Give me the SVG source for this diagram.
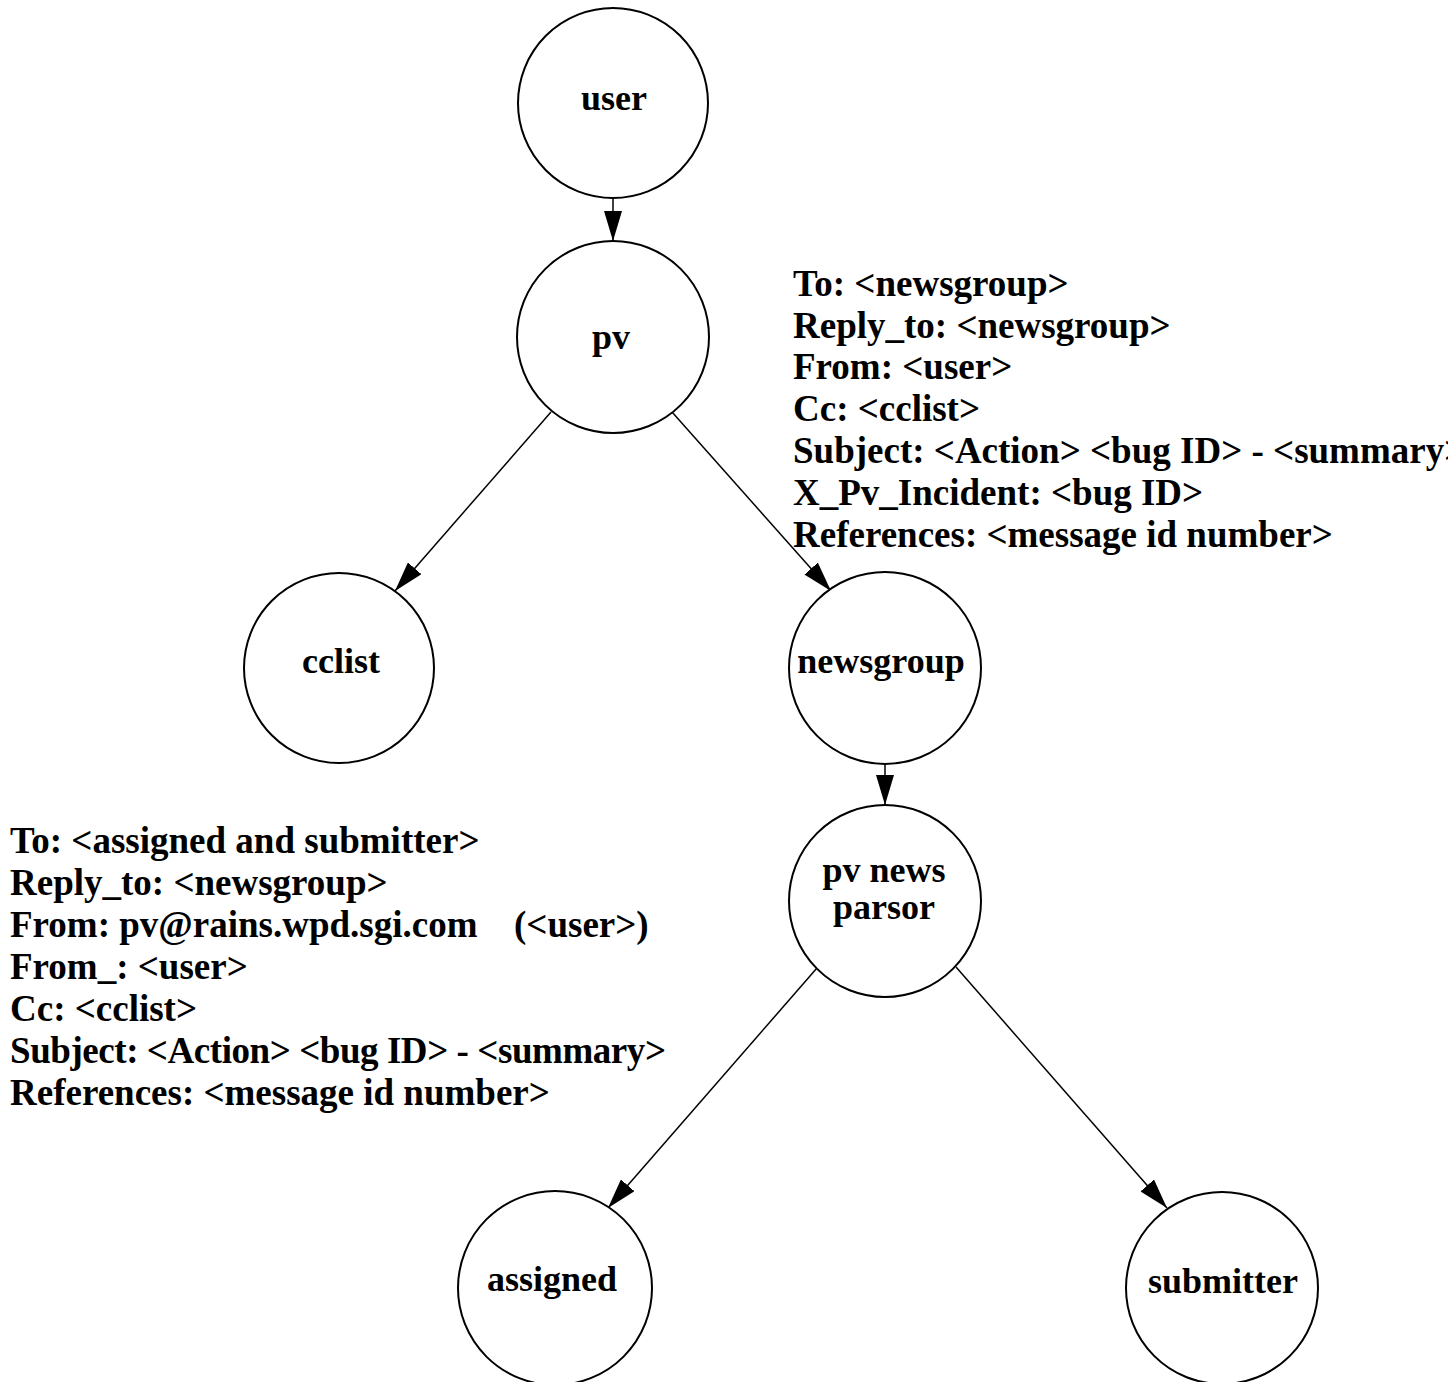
<svg xmlns="http://www.w3.org/2000/svg" width="1448" height="1382" viewBox="0 0 1448 1382">
  <style>
    .node { fill: #fff; stroke: #000; stroke-width: 2; }
    .label { font-family: "Liberation Serif", "Times New Roman", serif; font-weight: bold; font-size: 36px; fill: #000; }
    .hdr { font-family: "Liberation Serif", "Times New Roman", serif; font-weight: bold; font-size: 37px; fill: #000; }
    .mid { text-anchor: middle; }
    .edge { fill: none; stroke: #000; stroke-width: 1.5; marker-end: url(#head); }
  </style>
  <defs>
    <marker id="head" markerUnits="userSpaceOnUse" markerWidth="30" markerHeight="18" refX="30" refY="9" orient="auto">
      <path d="M0,0 L30,9 L0,18 z" fill="#000"/>
    </marker>
  </defs>
  <rect width="1448" height="1382" fill="#fff"/>

  <!-- connectors -->
  <g id="connectors">
    <line class="edge" x1="613" y1="199" x2="613" y2="241"/>
    <line class="edge" x1="551" y1="412" x2="395" y2="591"/>
    <line class="edge" x1="672" y1="412" x2="831" y2="591"/>
    <line class="edge" x1="885" y1="764" x2="885" y2="805"/>
    <line class="edge" x1="817" y1="968" x2="608" y2="1208"/>
    <line class="edge" x1="956" y1="967" x2="1167" y2="1208"/>
  </g>

  <!-- nodes -->
  <g id="user">
    <circle class="node" cx="613" cy="103" r="95"/>
    <text class="label mid" x="614" y="110">user</text>
  </g>
  <g id="pv">
    <circle class="node" cx="613" cy="337" r="96"/>
    <text class="label mid" x="611" y="349">pv</text>
  </g>
  <g id="cclist">
    <circle class="node" cx="339" cy="668" r="95"/>
    <text class="label mid" x="341" y="673">cclist</text>
  </g>
  <g id="newsgroup">
    <circle class="node" cx="885" cy="668" r="96"/>
    <text class="label mid" x="881" y="673">newsgroup</text>
  </g>
  <g id="pv-news-parsor">
    <circle class="node" cx="885" cy="901" r="96"/>
    <text class="label mid" x="884" y="882">pv news</text>
    <text class="label mid" x="884" y="919">parsor</text>
  </g>
  <g id="assigned">
    <circle class="node" cx="555" cy="1288" r="97"/>
    <text class="label mid" x="552" y="1291">assigned</text>
  </g>
  <g id="submitter">
    <circle class="node" cx="1222" cy="1288" r="96"/>
    <text class="label mid" x="1223" y="1293">submitter</text>
  </g>

  <!-- header fields posted to the newsgroup -->
  <g id="newsgroup-headers" class="hdr">
    <text x="793" y="296">To: &lt;newsgroup&gt;</text>
    <text x="793" y="338">Reply_to: &lt;newsgroup&gt;</text>
    <text x="793" y="379">From: &lt;user&gt;</text>
    <text x="793" y="421">Cc: &lt;cclist&gt;</text>
    <text x="793" y="463">Subject: &lt;Action&gt; &lt;bug ID&gt; - &lt;summary&gt;</text>
    <text x="793" y="505">X_Pv_Incident: &lt;bug ID&gt;</text>
    <text x="793" y="547">References: &lt;message id number&gt;</text>
  </g>

  <!-- header fields mailed by the parser -->
  <g id="parser-headers" class="hdr">
    <text x="10" y="853">To: &lt;assigned and submitter&gt;</text>
    <text x="10" y="895">Reply_to: &lt;newsgroup&gt;</text>
    <text x="10" y="937">From: pv@rains.wpd.sgi.com<tspan x="514">(&lt;user&gt;)</tspan></text>
    <text x="10" y="979">From_: &lt;user&gt;</text>
    <text x="10" y="1021">Cc: &lt;cclist&gt;</text>
    <text x="10" y="1063" textLength="656" lengthAdjust="spacing">Subject: &lt;Action&gt; &lt;bug ID&gt; - &lt;summary&gt;</text>
    <text x="10" y="1105">References: &lt;message id number&gt;</text>
  </g>
</svg>
